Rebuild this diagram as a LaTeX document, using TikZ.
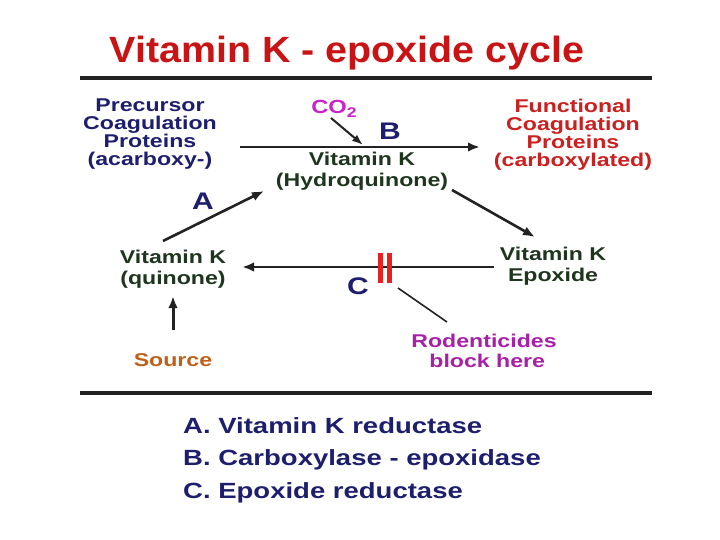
\documentclass[tikz,border=0pt]{standalone}
\usepackage{fontspec}
\setmainfont{Liberation Sans}
\newfontfamily\lab[FakeStretch=1.25]{Liberation Sans}
\newfontfamily\ttlfont[FakeStretch=1.08]{Liberation Sans}
\usetikzlibrary{arrows.meta}
\definecolor{linec}{HTML}{222222}
\definecolor{ttlred}{HTML}{C81414}
\definecolor{navy}{HTML}{1E1E6E}
\definecolor{funcred}{HTML}{CC2020}
\definecolor{vkgreen}{HTML}{1E361E}
\definecolor{co2mag}{HTML}{CC22CC}
\definecolor{rodmag}{HTML}{A820A8}
\definecolor{srcorange}{HTML}{C06018}
\definecolor{barred}{HTML}{E82020}
\tikzset{
  lbl/.style={font=\lab\bfseries\fontsize{18.5}{18}\selectfont, align=center, inner sep=0pt},
  lbltwo/.style={font=\lab\bfseries\fontsize{18.5}{20.5}\selectfont, align=center, inner sep=0pt},
  letter/.style={font=\lab\bfseries\fontsize{24}{24}\selectfont, text=navy, inner sep=0pt},
  legend/.style={font=\lab\bfseries\fontsize{22}{22}\selectfont, text=navy, anchor=west, inner sep=0pt},
  arr/.style={draw=linec, line width=2.6pt, -{Latex[length=12pt,width=9.5pt]}},
  sepline/.style={draw=linec, line width=3.4pt},
}
\begin{document}
\begin{tikzpicture}[x=1pt,y=-1pt]
\useasboundingbox (0,0) rectangle (720,540);
\fill[white] (0,0) rectangle (720,540);
% title
\node[font=\ttlfont\bfseries\fontsize{36.5}{36}\selectfont, text=ttlred, inner sep=0pt] (title) at (347,53) {Vitamin K - epoxide cycle};
% separators
\coordinate (s1a) at (80,78); \coordinate (s1b) at (652,78);
\coordinate (s2a) at (80,393); \coordinate (s2b) at (652,393);
\draw[sepline] (s1a) -- (s1b);
\draw[sepline] (s2a) -- (s2b);
% nodes
\node[lbl, text=navy] (prec) at (150,134) {Precursor\\Coagulation\\Proteins\\(acarboxy-)};
\node[lbl, text=funcred] (func) at (573,135) {Functional\\Coagulation\\Proteins\\(carboxylated)};
\node[lbltwo, text=vkgreen] (hydro) at (362,171) {Vitamin K\\(Hydroquinone)};
\node[lbltwo, text=vkgreen] (epox) at (553,266) {Vitamin K\\Epoxide};
\node[lbltwo, text=vkgreen] (quin) at (173,269) {Vitamin K\\(quinone)};
\node[lbl, text=srcorange] (src) at (173,360) {Source};
\node[lbltwo, text=rodmag] (rod) at (484,351) {Rodenticides\\\ block here};
\node[lbl, text=co2mag, font=\lab\bfseries\fontsize{19}{19}\selectfont] (co2) at (334,109) {CO\raisebox{-4pt}{\fontsize{14}{14}\selectfont 2}};
\node[letter] (lA) at (203,201) {A};
\node[letter] (lB) at (390,131) {B};
\node[letter] (lC) at (358,286) {C};
% connectors
\coordinate (b1) at (240,147); \coordinate (b2) at (480,147);
\draw[arr] (b1) -- (b2);
\coordinate (c1) at (331,118); \coordinate (c2) at (363,145);
\draw[arr, line width=2pt, -{Latex[length=11pt,width=8pt]}] (c1) -- (c2);
\coordinate (a1) at (163,241); \coordinate (a2) at (264,191);
\draw[arr] (a1) -- (a2);
\coordinate (h1) at (452,190); \coordinate (h2) at (535,237);
\draw[arr] (h1) -- (h2);
\coordinate (e1) at (494,267); \coordinate (e2) at (242,267);
\draw[arr] (e1) -- (e2);
\coordinate (q1) at (173,330); \coordinate (q2) at (173,296);
\draw[arr, line width=3pt] (q1) -- (q2);
% block marks
\draw[barred, line width=4.5pt] (380.5,253) -- (380.5,283);
\draw[barred, line width=4.5pt] (389.5,253) -- (389.5,283);
\coordinate (r1) at (398,288); \coordinate (r2) at (447,322);
\draw[linec, line width=1.6pt] (r1) -- (r2);
% legend
\node[legend] (legA) at (183,426) {A. Vitamin K reductase};
\node[legend] (legB) at (183,460) {B. Carboxylase - epoxidase};
\node[legend] (legC) at (183,493) {C. Epoxide reductase};
\end{tikzpicture}
\end{document}
